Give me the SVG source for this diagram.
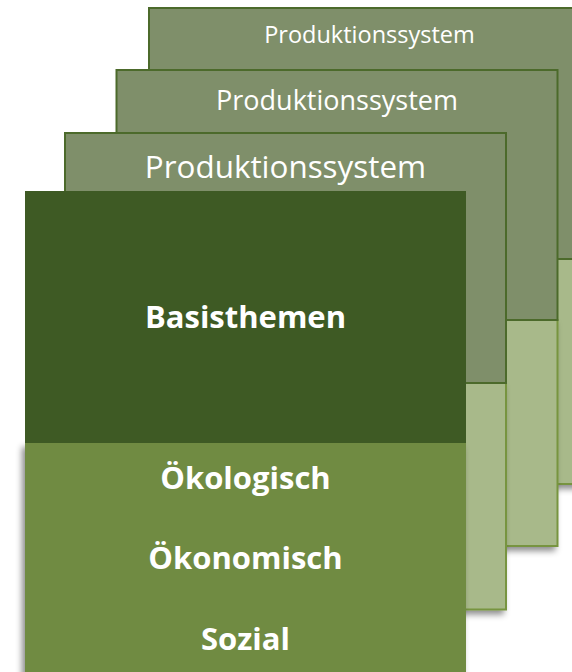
<svg xmlns="http://www.w3.org/2000/svg" width="572" height="672" viewBox="0 0 572 672">
  <defs>
    <filter id="shadow" x="-10%" y="-10%" width="120%" height="130%">
      <feDropShadow dx="-3" dy="4" stdDeviation="3" flood-color="#000" flood-opacity="0.45"/>
    </filter>
    <style>
      .upper { fill: #7F8F6A; stroke: #4C6A2B; stroke-width: 2; }
      .lower { fill: #A8B98A; stroke: #77943F; stroke-width: 2; }
      .front-top { fill: #3E5A24; }
      .front-bottom { fill: #6F8B43; }
      .title { font-family: "Open Sans", "Noto Sans", sans-serif; fill: #FFFFFF; text-anchor: middle; }
      .bold { font-family: "Open Sans", "Noto Sans", sans-serif; font-weight: bold; fill: #FFFFFF; text-anchor: middle; font-size: 31px; }
    </style>
  </defs>
  <rect width="572" height="672" fill="#FFFFFF"/>

  <g id="card3">
    <rect class="lower" x="149" y="259" width="441" height="225" filter="url(#shadow)"/>
    <rect class="upper" x="149" y="8" width="441" height="251"/>
    <text class="title" x="369.5" y="43" font-size="23.5">Produktionssystem</text>
  </g>

  <g id="card2">
    <rect class="lower" x="116.5" y="320" width="441" height="226" filter="url(#shadow)"/>
    <rect class="upper" x="116.5" y="70" width="441" height="250"/>
    <text class="title" x="337" y="110" font-size="27">Produktionssystem</text>
  </g>

  <g id="card1">
    <rect class="lower" x="65" y="383" width="441" height="226.5" filter="url(#shadow)"/>
    <rect class="upper" x="65" y="133" width="441" height="250"/>
    <text class="title" x="285.5" y="178" font-size="31.4">Produktionssystem</text>
  </g>

  <g id="front">
    <rect class="front-bottom" x="25" y="443" width="441" height="240" filter="url(#shadow)"/>
    <rect class="front-top" x="25" y="191" width="441" height="252"/>
    <text class="bold" x="245.5" y="328">Basisthemen</text>
    <text class="bold" x="245.5" y="489">Ökologisch</text>
    <text class="bold" x="245.5" y="569">Ökonomisch</text>
    <text class="bold" x="245.5" y="650">Sozial</text>
  </g>
</svg>
